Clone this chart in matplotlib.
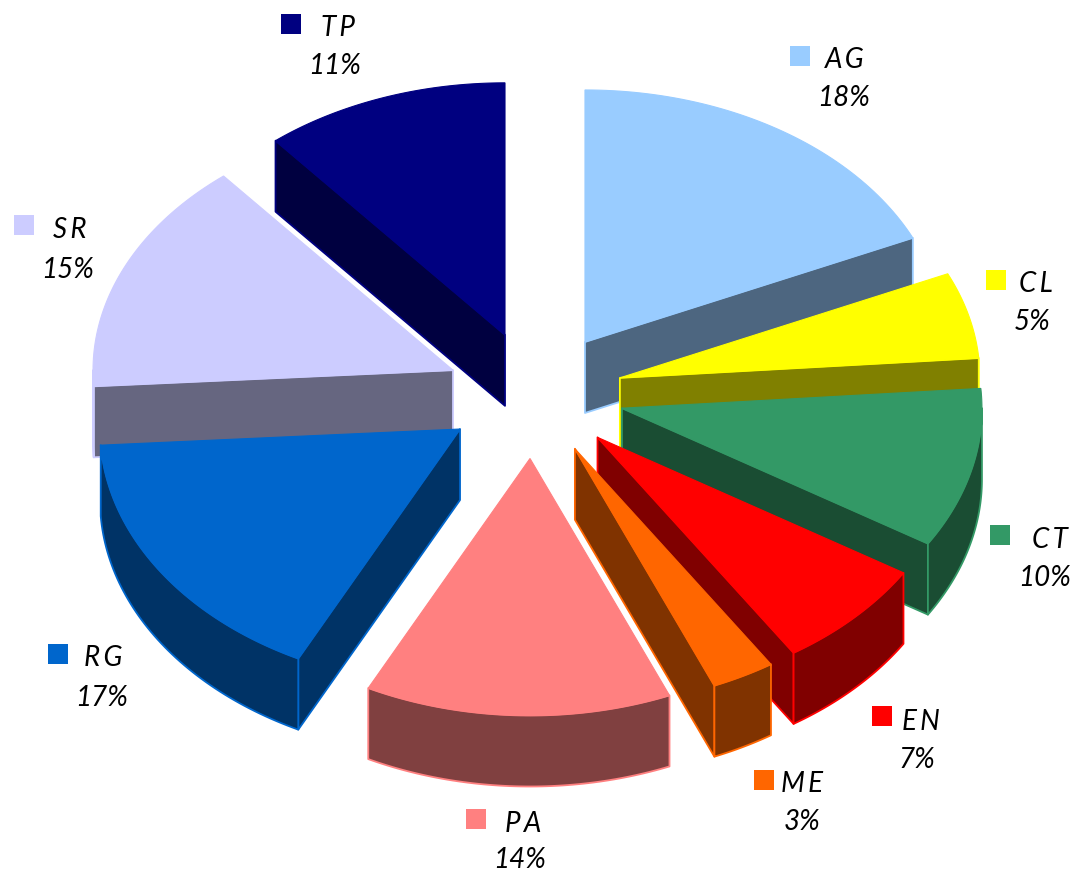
import numpy as np
import matplotlib
matplotlib.use('Agg')
import matplotlib.pyplot as plt
from matplotlib.colors import to_rgb
from matplotlib.patches import Polygon, Rectangle

# share of each slice, clockwise from 12 o'clock
names = ['AG', 'CL', 'CT', 'EN', 'ME', 'PA', 'RG', 'SR', 'TP']
shares = [18, 5, 10, 7, 3, 14, 17, 15, 11]

colors = ['#99CCFF', '#FFFF00', '#339966', '#FF0000', '#FF6600',
          '#FF8080', '#0066CC', '#CCCCFF', '#000080']

# how far each slice is pulled out, as a fraction of the radius
explode_x = [0.285, 0.26, 0.26, 0.25, 0.245, 0.25, 0.235, 0.233, 0.205]
explode_y = [0.256, 0.26, 0.26, 0.25, 0.245, 0.25, 0.235, 0.26, 0.26]

# the tilted view pushes the front boundaries round a little (degrees, one per boundary)
view_skew = [0, 0.8, 2.7, 3, 3, 2.4, 1.5, 0, 0, 0]

# back to front
draw_order = ['TP', 'AG', 'SR', 'CL', 'CT', 'RG', 'EN', 'ME', 'PA']

# legend square centre, name centre, percent centre in pixels
label_pos = {
    'TP': ((291, 24), (338, 26), (335, 64)),
    'AG': ((800, 56), (845, 58), (844, 96)),
    'CL': ((996, 280), (1036, 282), (1032, 320)),
    'CT': ((1000, 535), (1050, 537), (1045, 575)),
    'EN': ((882, 716), (921, 719), (917, 757)),
    'ME': ((764, 780), (802, 782), (802, 820)),
    'PA': ((476, 819), (523, 821), (520, 858)),
    'RG': ((58, 654), (103, 656), (102, 695)),
    'SR': ((24, 225), (70, 228), (68, 267)),
}

cx, cy = 530, 396
rx = 360
ry_back, ry_front = 252, 257
depth = 71

plt.rcParams['font.family'] = ['Lato', 'DejaVu Sans']

fig = plt.figure(figsize=(10.75, 8.73), dpi=100)
ax = fig.add_axes([0, 0, 1, 1])
ax.set_xlim(0, 1075)
ax.set_ylim(873, 0)
ax.axis('off')

total = sum(shares)
edges = np.cumsum([0] + shares) / total * 2 * np.pi
drawn_edges = edges + np.radians(view_skew)


def darker(c):
    return tuple(v * 0.5 for v in to_rgb(c))


def rim_point(ox, oy, t):
    # front of the ellipse is a bit deeper than the back
    c = np.cos(t)
    return ox + rx * np.sin(t), oy - np.where(c > 0, ry_back, ry_front) * c


for name in draw_order:
    i = names.index(name)
    t0, t1 = drawn_edges[i], drawn_edges[i + 1]
    mid = (edges[i] + edges[i + 1]) / 2
    ox = cx + explode_x[i] * rx * np.sin(mid)
    oy = cy - explode_y[i] * 250 * np.cos(mid)

    ts = np.linspace(t0, t1, 60)
    xs, ys = rim_point(ox, oy, ts)
    top = np.column_stack([np.r_[ox, xs], np.r_[oy, ys]])

    side = darker(colors[i])
    style = dict(facecolor=side, edgecolor=colors[i], linewidth=1.3, joinstyle='round')

    # start edge shows on the left half, end edge on the right half
    for t, visible in [(t0, np.sin(t0) < 0), (t1, np.sin(t1) > 0)]:
        if visible:
            x, y = rim_point(ox, oy, t)
            ax.add_patch(Polygon([(ox, oy), (x, y), (x, y + depth), (ox, oy + depth)], **style))

    # outer rim, only the part that faces down
    lo, hi = max(t0, np.pi / 2), min(t1, 3 * np.pi / 2)
    if hi > lo:
        rs = np.linspace(lo, hi, 60)
        rxs, rys = rim_point(ox, oy, rs)
        ax.add_patch(Polygon(np.column_stack([np.r_[rxs, rxs[::-1]],
                                              np.r_[rys, rys[::-1] + depth]]), **style))

    ax.add_patch(Polygon(top, facecolor=colors[i], edgecolor=colors[i], linewidth=0.8))

# labels
for i, name in enumerate(names):
    sq, nm, pc = label_pos[name]
    ax.add_patch(Rectangle((sq[0] - 10, sq[1] - 10), 20, 20, facecolor=colors[i], edgecolor='none'))
    ax.text(nm[0], nm[1] + 10.5, '\u2009'.join(name), fontsize=20, style='italic',
            ha='center', va='baseline', color='black')
    ax.text(pc[0], pc[1] + 10.5, '%d%%' % shares[i], fontsize=20, style='italic',
            ha='center', va='baseline', color='black')

fig.savefig('out.png', dpi=100, facecolor='white')
